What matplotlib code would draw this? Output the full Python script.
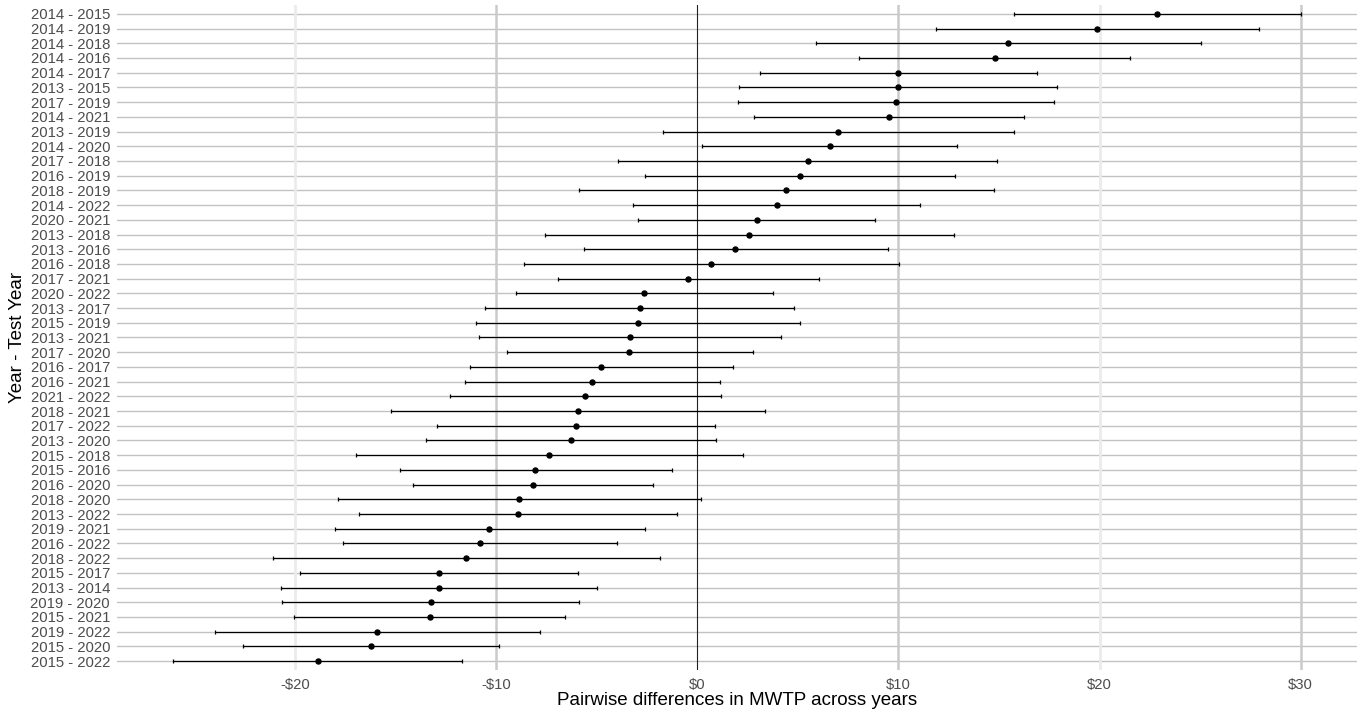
import matplotlib.pyplot as plt
import numpy as np

plt.rcParams['font.family'] = ['Liberation Sans', 'DejaVu Sans']

# rows from top to bottom
pairs = ['2014 - 2015', '2014 - 2019', '2014 - 2018', '2014 - 2016', '2014 - 2017',
         '2013 - 2015', '2017 - 2019', '2014 - 2021', '2013 - 2019', '2014 - 2020',
         '2017 - 2018', '2016 - 2019', '2018 - 2019', '2014 - 2022', '2020 - 2021',
         '2013 - 2018', '2013 - 2016', '2016 - 2018', '2017 - 2021', '2020 - 2022',
         '2013 - 2017', '2015 - 2019', '2013 - 2021', '2017 - 2020', '2016 - 2017',
         '2016 - 2021', '2021 - 2022', '2018 - 2021', '2017 - 2022', '2013 - 2020',
         '2015 - 2018', '2015 - 2016', '2016 - 2020', '2018 - 2020', '2013 - 2022',
         '2019 - 2021', '2016 - 2022', '2018 - 2022', '2015 - 2017', '2013 - 2014',
         '2019 - 2020', '2015 - 2021', '2019 - 2022', '2015 - 2020', '2015 - 2022']

diff = [22.85, 19.87, 15.47, 14.79, 10.0, 9.99, 9.9, 9.52, 7.0, 6.59,
        5.5, 5.1, 4.42, 3.94, 2.95, 2.58, 1.9, 0.70, -0.45, -2.63,
        -2.87, -2.97, -3.34, -3.38, -4.77, -5.23, -5.56, -5.93, -6.03, -6.28,
        -7.37, -8.05, -8.16, -8.84, -8.93, -10.33, -10.81, -11.51, -12.83, -12.85,
        -13.25, -13.31, -15.91, -16.24, -18.88]

lower = [15.76, 11.86, 5.9, 8.05, 3.13, 2.10, 2.05, 2.83, -1.72, 0.26,
         -3.94, -2.62, -5.86, -3.18, -2.95, -7.57, -5.63, -8.63, -6.94, -9.03,
         -10.55, -11.01, -10.86, -9.47, -11.28, -11.57, -12.29, -15.22, -12.95, -13.48,
         -16.96, -14.8, -14.11, -17.88, -16.83, -18.03, -17.62, -21.1, -19.74, -20.72,
         -20.63, -20.04, -23.98, -22.6, -26.05]

upper = [30.0, 27.92, 25.05, 21.53, 16.87, 17.88, 17.75, 16.23, 15.73, 12.93,
         14.9, 12.83, 14.74, 11.09, 8.84, 12.75, 9.47, 10.03, 6.03, 3.76,
         4.8, 5.1, 4.17, 2.75, 1.77, 1.13, 1.18, 3.38, 0.89, 0.93,
         2.25, -1.27, -2.22, 0.2, -0.99, -2.62, -4.01, -1.87, -5.93, -4.98,
         -5.86, -6.56, -7.83, -9.84, -11.72]

diff = np.array(diff)
lower = np.array(lower)
upper = np.array(upper)
y = np.arange(len(pairs))[::-1]

fig = plt.figure(figsize=(13.62, 7.15), dpi=100)
ax = fig.add_axes([0.0859, 0.063, 0.9104, 0.930])

# grid, drawn by hand to get the ggplot look
for yy in y:
    ax.axhline(yy, color='#c2c2c2', lw=1.0, zorder=0)
for xv in [-20, 20]:
    ax.axvline(xv, color='#ebebeb', lw=2, zorder=0)
for xv in [-10, 10, 30]:
    ax.axvline(xv, color='#cacaca', lw=1.8, zorder=0)
ax.axvline(0, color='#222222', lw=0.8, zorder=1)

ax.errorbar(diff, y, xerr=[diff - lower, upper - diff], fmt='o', color='black',
            ms=3.6, elinewidth=0.9, capsize=1.5, capthick=0.9, zorder=3)

ax.set_xlim(-28.85, 32.8)
ax.set_ylim(-0.6, len(pairs) - 0.4)
ax.set_yticks(y)
ax.set_yticklabels(pairs)
ax.set_xticks([-20, -10, 0, 10, 20, 30])
ax.set_xticklabels(['-$20', '-$10', '$0', '$10', '$20', '$30'])
ax.tick_params(length=0, labelsize=10.7, labelcolor='#4d4d4d')
ax.tick_params(axis='y', pad=5)
ax.tick_params(axis='x', pad=6)
for s in ax.spines.values():
    s.set_visible(False)

ax.set_xlabel('Pairwise differences in MWTP across years', fontsize=13.5, labelpad=0)
ax.set_ylabel('Year - Test Year', fontsize=13.5, labelpad=3)

fig.savefig('out.png', dpi=100)
